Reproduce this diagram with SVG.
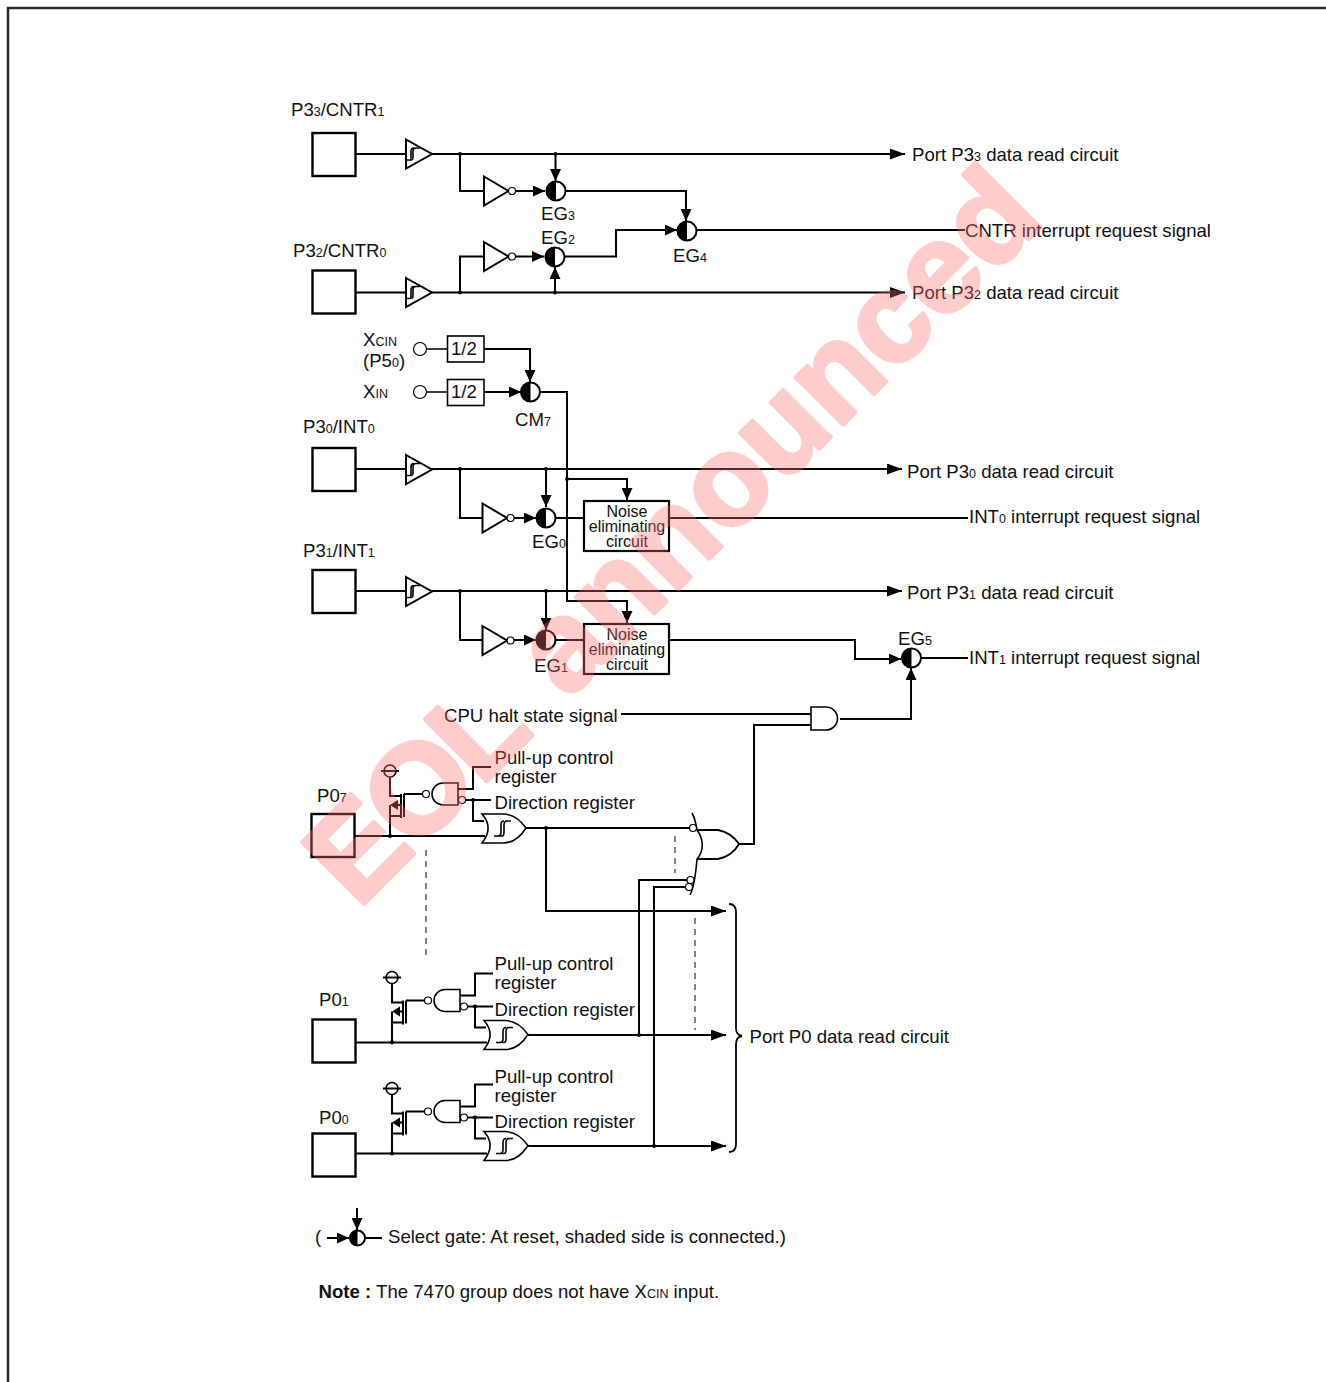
<svg xmlns="http://www.w3.org/2000/svg" width="1326" height="1382" viewBox="0 0 1326 1382">
<style>
text{font-family:"Liberation Sans",Arial,sans-serif;font-size:18.6px;fill:#111}
.s{font-size:12.500px}
.n{font-size:16px;text-anchor:middle}
.w{fill:none;stroke:#000;stroke-width:2}
.t{fill:none;stroke:#000;stroke-width:1.6}
.g{fill:#fff;stroke:#000;stroke-width:2}
.b{fill:#fff;stroke:#000;stroke-width:1.2}
.pad{fill:#fff;stroke:#000;stroke-width:2.400}
.d{fill:none;stroke:#666;stroke-width:1.600;stroke-dasharray:6 5}
.a{marker-end:url(#as)}
.A{marker-end:url(#al)}
.wm{font-family:"Liberation Sans",Arial,sans-serif;font-weight:bold;font-size:127px;fill:#ff6f6f;stroke:#ff6f6f;stroke-width:4;stroke-linejoin:round;opacity:.35}
</style>
<defs>
<marker id="as" markerUnits="userSpaceOnUse" viewBox="0 0 12 11" refX="12" refY="5.500" markerWidth="12" markerHeight="11" orient="auto"><path d="M0 0L12 5.500L0 11Z" fill="#000"/></marker>
<marker id="al" markerUnits="userSpaceOnUse" viewBox="0 0 15 11" refX="15" refY="5.500" markerWidth="15" markerHeight="11" orient="auto"><path d="M0 0L15 5.500L0 11Z" fill="#000"/></marker>
<g id="dot"><circle r="2" fill="#000"/></g>
<g id="sbuf"><path class="g" d="M406 -14.500L432 0L406 14.500Z"/><path class="t" d="M407 6H411C413 6 413 5 413 3V-3C413 -5 414 -6 416 -6H420M410 6C411 6 411 5 411 3V-3C411 -5 412 -6 414 -6"/></g>
<g id="inv"><path class="g" d="M0 -14.500L24.500 0L0 14.500Z"/><circle class="b" cx="28" cy="0" r="3.500"/></g>
<g id="sel"><circle class="g" cx="0" cy="0" r="9.500"/><path d="M0 -10A10 10 0 0 0 0 10Z" fill="#000"/></g>
<g id="hyst"><path class="t" d="M-7 7.500H1C3 7.500 3 6 3 3.500V-3.500C3 -6 4 -7.500 6 -7.500H10M-3 7.500C-1 7.500 0 6 0 3.500V-3.500C0 -6 1 -7.500 3 -7.500"/></g>
<g id="pullup">
<path class="w" d="M381 771H399M390 777V796H401M390 805V816H401M390 816V836M404 794V817M404 794H422M458 789H473V767H491M466 800H491M473 800V821H484"/>
<circle class="t" cx="390" cy="771" r="6"/>
<path class="w" d="M401 794V818"/>
<path class="w" d="M401 805H396"/><path d="M390 805L398 800V810Z" fill="#000"/>
<circle class="b" cx="426" cy="794" r="3.500"/>
<path class="t" d="M458 783H443A11 11 0 0 0 443 805H458Z" style="fill:#fff"/>
<circle class="b" cx="462" cy="800" r="3.500"/>
<path class="t" d="M482 814H503C514 814 521 821 526 828C521 836 514 843 503 843H482C490 833 490 823 482 814Z" style="fill:#fff"/>
<use href="#hyst" x="501" y="828.500"/>
<use href="#dot" x="473" y="800"/>
<use href="#dot" x="390" y="836"/>
</g>
</defs>
<path id="frame" d="M8 1382V8H1326" fill="none" stroke="#2a2a2a" stroke-width="2.500"/>

<g id="connectors">
<path class="w A" d="M356 154H406M432 154H905"/>
<path class="w" d="M460 154V191H484"/>
<path class="w a" d="M516 191H545"/>
<path class="w a" d="M555.500 154V181"/>
<path class="w a" d="M566 191H686V221"/>
<path class="w" d="M697 230H965"/>
<path class="w a" d="M565 256.500H616V230H677"/>
<path class="w A" d="M356 292.500H406M432 292.500H905"/>
<path class="w" d="M460 292.500V256.500H484"/>
<path class="w a" d="M516 256.500H544"/>
<path class="w a" d="M555 292.500V267"/>
<path class="t" d="M427 349H447M427 392H447"/>
<path class="w a" d="M484 349H530V382"/>
<path class="w a" d="M484 392H521"/>
<path class="w a" d="M540 392H567V601H627V623"/>
<path class="w a" d="M567 479H627V500"/>
<path class="w A" d="M356 469H406M432 469H902"/>
<path class="w" d="M460 469V518H482"/>
<path class="w a" d="M514 518H536"/>
<path class="w a" d="M546 469V507"/>
<path class="w" d="M556 518H584M669 518H968"/>
<path class="w A" d="M356 591H406M432 591H902"/>
<path class="w" d="M460 591V640H482"/>
<path class="w a" d="M514 640H536"/>
<path class="w a" d="M546 591V630"/>
<path class="w" d="M556 640H584"/>
<path class="w a" d="M669 640H855V659H901"/>
<path class="w" d="M921 658H968"/>
<path class="w a" d="M840 719H911V668"/>
<path class="w" d="M621 714H811M811 725H754V844H739"/>
<path class="w" d="M355 836H485M526 828H690"/>
<path class="w A" d="M546 828V911H726"/>
<path class="w" d="M356 1042.500H487M356 1153.500H487"/>
<path class="w A" d="M528 1035H726"/>
<path class="w A" d="M528 1146H726"/>
<path class="w" d="M639 1035V880H687M654 1146V887H686"/>
<path class="d" d="M426 850V960M675 836V873M695 918V1030"/>
<path class="w" d="M729 904Q736 904 736 912V1028Q736 1035 742 1036Q736 1037 736 1044V1144Q736 1152 729 1152" style="stroke-width:1.800"/>
<g id="junctions">
<use href="#dot" x="460" y="154"/><use href="#dot" x="555.500" y="154"/>
<use href="#dot" x="460" y="292.500"/><use href="#dot" x="555" y="292.500"/>
<use href="#dot" x="460" y="469"/><use href="#dot" x="546" y="469"/><use href="#dot" x="567" y="479"/>
<use href="#dot" x="460" y="591"/><use href="#dot" x="546" y="591"/>
<use href="#dot" x="546" y="828"/><use href="#dot" x="639" y="1035"/><use href="#dot" x="654" y="1146"/>
</g>
</g>

<g id="pad-p33"><rect class="pad" x="312.500" y="133" width="43" height="43"/><text x="291" y="116">P3<tspan class="s">3</tspan>/CNTR<tspan class="s">1</tspan></text></g>
<g id="buf-p33"><use href="#sbuf" y="154"/></g>
<g id="inv-eg3"><use href="#inv" x="484" y="191"/></g>
<g id="eg3"><use href="#sel" x="556" y="191"/><text x="541" y="220">EG<tspan class="s">3</tspan></text></g>
<g id="eg4"><use href="#sel" x="687" y="231"/><text x="673" y="262">EG<tspan class="s">4</tspan></text></g>
<g id="pad-p32"><rect class="pad" x="312.500" y="270.500" width="43" height="43"/><text x="293" y="257">P3<tspan class="s">2</tspan>/CNTR<tspan class="s">0</tspan></text></g>
<g id="buf-p32"><use href="#sbuf" y="292.500"/></g>
<g id="inv-eg2"><use href="#inv" x="484" y="256.500"/></g>
<g id="eg2"><use href="#sel" x="555" y="257"/><text x="541" y="244">EG<tspan class="s">2</tspan></text></g>
<g id="out-p33"><text x="912" y="161">Port P3<tspan class="s">3</tspan> data read circuit</text></g>
<g id="out-cntr"><text x="965" y="237">CNTR interrupt request signal</text></g>
<g id="out-p32"><text x="912" y="299">Port P3<tspan class="s">2</tspan> data read circuit</text></g>

<g id="xcin"><circle class="b" cx="420" cy="349" r="6.500"/><text x="363" y="346">X<tspan class="s">CIN</tspan></text><text x="363" y="367">(P5<tspan class="s">0</tspan>)</text></g>
<g id="div-xcin"><rect class="b" x="447.500" y="336" width="36.500" height="26" style="stroke-width:1.600"/><text x="451" y="355">1/2</text></g>
<g id="xin"><circle class="b" cx="420" cy="392" r="6.500"/><text x="363" y="398">X<tspan class="s">IN</tspan></text></g>
<g id="div-xin"><rect class="b" x="447.500" y="379.500" width="36.500" height="26" style="stroke-width:1.600"/><text x="451" y="398">1/2</text></g>
<g id="cm7"><use href="#sel" x="530.500" y="392"/><text x="515" y="426">CM<tspan class="s">7</tspan></text></g>

<g id="pad-p30"><rect class="pad" x="312.500" y="448" width="43" height="43"/><text x="303" y="433">P3<tspan class="s">0</tspan>/INT<tspan class="s">0</tspan></text></g>
<g id="buf-p30"><use href="#sbuf" y="469.500"/></g>
<g id="inv-eg0"><use href="#inv" x="482.500" y="518"/></g>
<g id="eg0"><use href="#sel" x="546" y="518"/><text x="532" y="548">EG<tspan class="s">0</tspan></text></g>
<g id="noise0"><rect class="g" x="584" y="501" width="85" height="50" style="stroke-width:2.200"/><text class="n" x="627" y="517">Noise</text><text class="n" x="627" y="532">eliminating</text><text class="n" x="627" y="547">circuit</text></g>
<g id="out-p30"><text x="907" y="478">Port P3<tspan class="s">0</tspan> data read circuit</text></g>
<g id="out-int0"><text x="969" y="523">INT<tspan class="s">0</tspan> interrupt request signal</text></g>

<g id="pad-p31"><rect class="pad" x="312.500" y="570" width="43" height="43"/><text x="303" y="557">P3<tspan class="s">1</tspan>/INT<tspan class="s">1</tspan></text></g>
<g id="buf-p31"><use href="#sbuf" y="591.500"/></g>
<g id="inv-eg1"><use href="#inv" x="482.500" y="640.500"/></g>
<g id="eg1"><use href="#sel" x="546" y="640"/><text x="534" y="672">EG<tspan class="s">1</tspan></text></g>
<g id="noise1"><rect class="g" x="584" y="624" width="85" height="50" style="stroke-width:2.200"/><text class="n" x="627" y="640">Noise</text><text class="n" x="627" y="655">eliminating</text><text class="n" x="627" y="670">circuit</text></g>
<g id="out-p31"><text x="907" y="599">Port P3<tspan class="s">1</tspan> data read circuit</text></g>
<g id="eg5"><use href="#sel" x="911.500" y="658"/><text x="898" y="645">EG<tspan class="s">5</tspan></text></g>
<g id="out-int1"><text x="969" y="664">INT<tspan class="s">1</tspan> interrupt request signal</text></g>

<g id="and-halt"><path class="t" d="M811 707H826A11.500 11.500 0 0 1 826 730H811Z" style="fill:#fff"/><text x="444" y="722">CPU halt state signal</text></g>
<g id="or-port"><path class="t" d="M697 830H718C728 832 735 838 739 844C735 851 728 857 718 859H697" style="stroke-width:1.800"/><path class="t" d="M692 813C695 818 696 824 697 830C703 838 705 850 697 859C696 870 695 885 690 895"/><circle class="b" cx="693" cy="828" r="3.500"/><circle class="b" cx="690.500" cy="880" r="3.500"/><circle class="b" cx="689" cy="887" r="3.500"/></g>

<g id="pad-p07"><rect class="pad" x="311.500" y="814" width="43" height="43"/><text x="317" y="802">P0<tspan class="s">7</tspan></text></g>
<g id="cell-p07"><use href="#pullup"/><text x="494.500" y="764">Pull-up control</text><text x="494.500" y="783">register</text><text x="494.500" y="809">Direction register</text></g>
<g id="pad-p01"><rect class="pad" x="312.500" y="1019.500" width="43" height="43"/><text x="319" y="1006">P0<tspan class="s">1</tspan></text></g>
<g id="cell-p01"><use href="#pullup" x="2" y="206.500"/><text x="494.500" y="970">Pull-up control</text><text x="494.500" y="989">register</text><text x="494.500" y="1016">Direction register</text></g>
<g id="pad-p00"><rect class="pad" x="312.500" y="1133.500" width="43" height="43"/><text x="319" y="1124">P0<tspan class="s">0</tspan></text></g>
<g id="cell-p00"><use href="#pullup" x="2" y="317.500"/><text x="494.500" y="1083">Pull-up control</text><text x="494.500" y="1102">register</text><text x="494.500" y="1128">Direction register</text></g>
<g id="out-p0"><text x="749.500" y="1043">Port P0 data read circuit</text></g>

<g id="legend">
<text x="315" y="1243">(</text>
<path class="w a" d="M327 1238H349"/>
<path class="w a" d="M357 1208V1230"/>
<path class="w" d="M365 1238H382"/>
<circle class="g" cx="357.500" cy="1238" r="7.500"/><path d="M357.500 1230A8 8 0 0 0 357.500 1246Z" fill="#000"/>
<text x="388" y="1243">Select gate: At reset, shaded side is connected.)</text>
</g>
<g id="note"><text x="318.500" y="1298"><tspan font-weight="bold">Note :</tspan> The 7470 group does not have X<tspan class="s">CIN</tspan> input.</text></g>

<g id="watermark"><text class="wm" transform="translate(358 910) rotate(-45)"><tspan letter-spacing="-5">EOL</tspan><tspan dx="15"> announced</tspan></text></g>
</svg>
